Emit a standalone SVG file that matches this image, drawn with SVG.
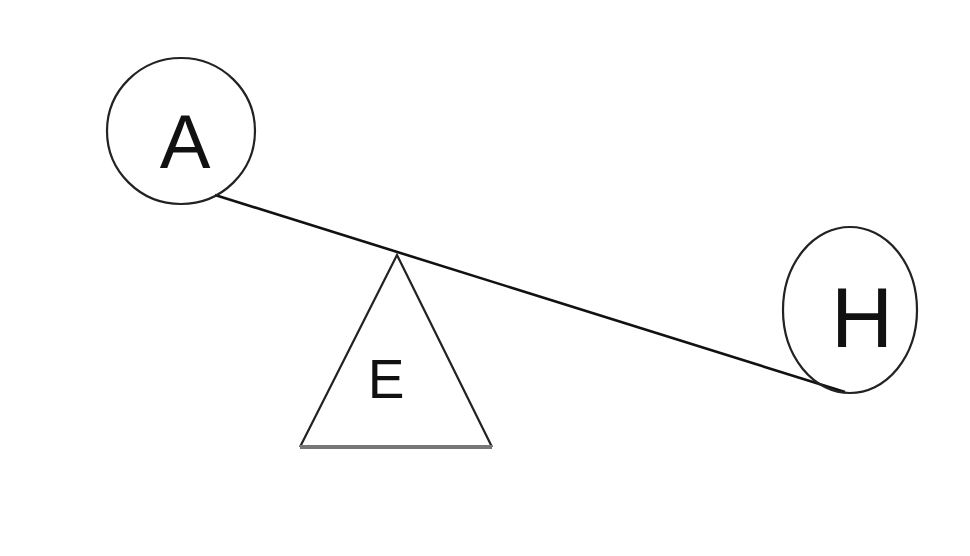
<svg xmlns="http://www.w3.org/2000/svg" width="970" height="556" viewBox="0 0 970 556">
<style>
.n{fill:none;stroke:#222;stroke-width:2.2}
.t{font-family:"Liberation Sans",Arial,sans-serif;fill:#111;text-anchor:middle}
</style>
<rect width="970" height="556" fill="#fff"/>
<g id="connectors">
<line x1="215" y1="195" x2="845" y2="392" stroke="#111" stroke-width="2.6"/>
</g>
<g id="A">
<ellipse class="n" cx="181" cy="131" rx="74" ry="73"/>
<text class="t" x="185" y="168" font-size="76">A</text>
</g>
<g id="H">
<ellipse class="n" cx="850" cy="310" rx="67" ry="83"/>
<text class="t" x="862" y="347" font-size="86">H</text>
</g>
<g id="E">
<polyline class="n" points="300,447 397,255 492,447"/>
<line x1="300" y1="447" x2="492" y2="447" stroke="#777" stroke-width="4"/>
<text class="t" x="386" y="398" font-size="55">E</text>
</g>
</svg>
